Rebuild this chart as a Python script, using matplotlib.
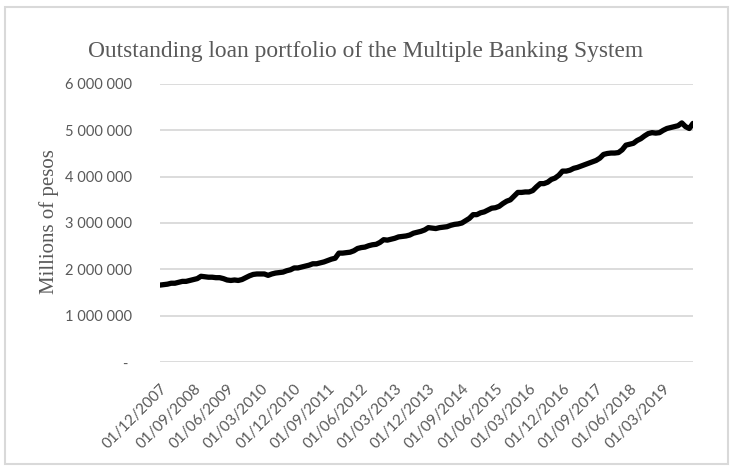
import matplotlib.pyplot as plt
import matplotlib.ticker as mticker
from matplotlib.patches import Rectangle
import pandas as pd

# Outstanding loan portfolio, monthly, Dec 2007 - Nov 2019 (thousands of millions of pesos)
portfolio_k = [
    1660, 1670, 1680, 1700, 1700, 1720, 1740, 1740, 1760, 1780, 1800, 1850,
    1840, 1830, 1830, 1820, 1820, 1800, 1770, 1760, 1770, 1760, 1780, 1820,
    1860, 1890, 1900, 1900, 1900, 1870, 1900, 1920, 1930, 1940, 1970, 1990,
    2030, 2030, 2050, 2070, 2090, 2120, 2120, 2140, 2160, 2190, 2220, 2240,
    2350, 2350, 2360, 2370, 2400, 2450, 2470, 2480, 2510, 2530, 2540, 2580,
    2640, 2630, 2650, 2670, 2700, 2710, 2720, 2740, 2780, 2800, 2820, 2850,
    2900, 2890, 2880, 2900, 2910, 2920, 2950, 2970, 2980, 3000, 3050, 3100,
    3180, 3180, 3220, 3240, 3280, 3320, 3330, 3360, 3420, 3470, 3500, 3580,
    3660, 3660, 3670, 3670, 3700, 3780, 3850, 3850, 3880, 3940, 3970, 4030,
    4120, 4120, 4140, 4180, 4200, 4230, 4260, 4290, 4320, 4350, 4400, 4480,
    4500, 4510, 4510, 4520, 4580, 4680, 4700, 4720, 4780, 4820, 4880, 4930,
    4950, 4940, 4950, 5000, 5040, 5060, 5080, 5100, 5160, 5080, 5040, 5150,
]
first_month = "2007-12-01"
label_step = 9

values = [v * 1000 for v in portfolio_k]
dates = pd.date_range(first_month, periods=len(values), freq="MS")
date_labels = list(dates.strftime("%d/%m/%Y"))
x = list(range(len(values)))

GRAY = "#595959"
GRID = "#d9d9d9"

fig = plt.figure(figsize=(7.36, 4.70), dpi=100)
ax = fig.add_axes([160 / 736, 1 - 362 / 470, (693 - 160) / 736, (362 - 84) / 470])

ax.plot(x, values, color="black", lw=3.8, solid_joinstyle="round", solid_capstyle="round", zorder=3)

ax.set_xlim(0, len(values) - 1)
ax.set_ylim(0, 6_000_000)
ax.yaxis.set_major_locator(mticker.MultipleLocator(1_000_000))
ax.yaxis.set_major_formatter(mticker.FuncFormatter(
    lambda v, p: "- " if v == 0 else f"{v:,.0f}".replace(",", " ")))
ax.grid(axis="y", color=GRID, lw=1.3)
ax.set_axisbelow(True)

tick_pos = x[::label_step]
ax.set_xticks(tick_pos)
ax.set_xticklabels([date_labels[i] for i in tick_pos], rotation=45, ha="right",
                   rotation_mode="anchor", fontfamily="Lato", fontsize=11, color=GRAY)

ax.tick_params(axis="y", length=0, pad=20, labelsize=10.5, labelcolor=GRAY)
ax.tick_params(axis="x", length=0, pad=14)
for lab in ax.get_yticklabels():
    lab.set_fontfamily("Lato")
for s in ax.spines.values():
    s.set_visible(False)

fig.text(366 / 736, 1 - 51 / 470, "Outstanding loan portfolio of the Multiple Banking System",
         ha="center", va="center", fontfamily="Liberation Serif", fontsize=16.8, color=GRAY)
fig.text(49 / 736, 1 - 222 / 470, "Millions of pesos", rotation=90, ha="center", va="center",
         fontfamily="Liberation Serif", fontsize=15, color=GRAY)

fig.patches.append(Rectangle((5 / 736, 6 / 470), 723 / 736, 457 / 470, transform=fig.transFigure,
                             fill=False, edgecolor=GRID, lw=1.5))

fig.savefig("out.png", dpi=100)
